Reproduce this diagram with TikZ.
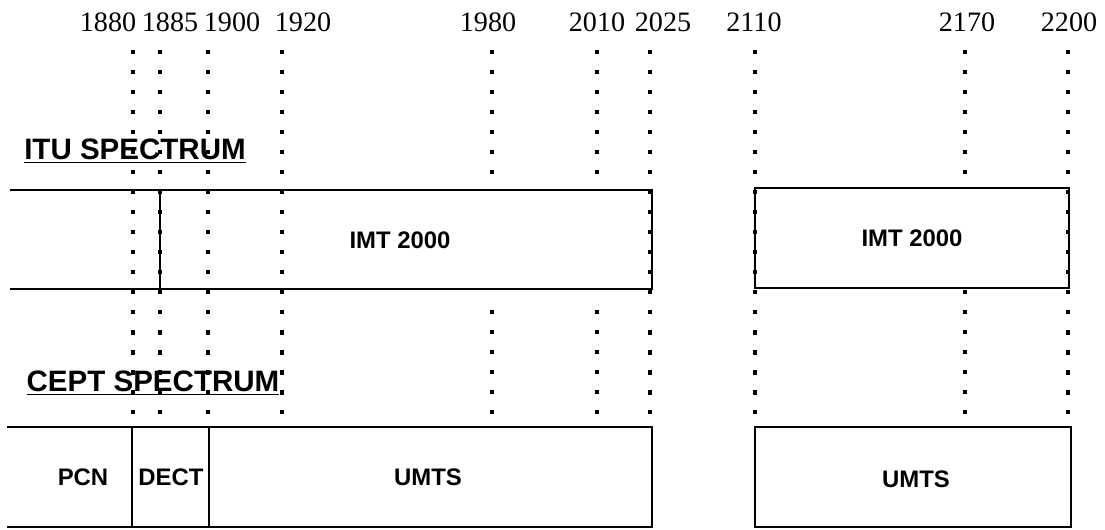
\documentclass[tikz,border=0pt]{standalone}
\usepackage{fontspec}
\setmainfont{Liberation Serif}
\setsansfont{Liberation Sans}
\usepackage{tikz}

\begin{document}
\begin{tikzpicture}[x=0.025cm, y=-0.025cm,
    freq/.style={font=\fontsize{20}{20}\selectfont, inner sep=0pt},
    title/.style={font=\sffamily\bfseries\fontsize{21}{21}\selectfont, inner sep=0pt, anchor=base},
    band/.style={font=\sffamily\bfseries\fontsize{17}{17}\selectfont, inner sep=0pt, anchor=base},
    edge/.style={line width=1.4pt},
    dots/.style={line width=3.1pt, dash pattern=on 3.1pt off 11.13pt}]
        \useasboundingbox (0,0) rectangle (1105,530);
        % frequency labels
        \foreach \x/\f in {108/1880, 170/1885, 232/1900, 303/1920, 488/1980, 597/2010, 663/2025, 754/2110, 967/2170, 1069/2200}
            \node[freq] (f\f) at (\x,22) {\f};
        % dotted marks
        \foreach \x in {133, 160, 208, 282, 650, 755, 1068}
            \draw[dots] (\x,50) -- (\x,414);
        \foreach \x in {492, 597}
            \draw[dots] (\x,50) -- (\x,174) (\x,310) -- (\x,414);
        \draw[dots] (965,50) -- (965,174) (965,290) -- (965,414);
        % ITU spectrum
        \node[title] (itu) at (135,160) {\underline{ITU SPECTRUM}};
        \draw[edge] (10,190) -- (652,190) -- (652,289) -- (10,289);
        \draw[edge] (160,190) -- (160,289);
        \draw[edge] (755,188) rectangle (1069,288);
        \node[band] (imt1) at (400,249) {IMT 2000};
        \node[band] (imt2) at (912,247) {IMT 2000};
        % CEPT spectrum
        \node[title] (cept) at (153,392) {\underline{CEPT SPECTRUM}};
        \draw[edge] (7,427) -- (652,427) -- (652,527) -- (7,527);
        \draw[edge] (132,427) -- (132,527);
        \draw[edge] (209,427) -- (209,527);
        \draw[edge] (755,427) rectangle (1071,527);
        \node[band] (pcn) at (83,485) {PCN};
        \node[band] (dect) at (171,485) {DECT};
        \node[band] (umts1) at (428,485) {UMTS};
        \node[band] (umts2) at (916,487) {UMTS};
      \end{tikzpicture}
\end{document}
